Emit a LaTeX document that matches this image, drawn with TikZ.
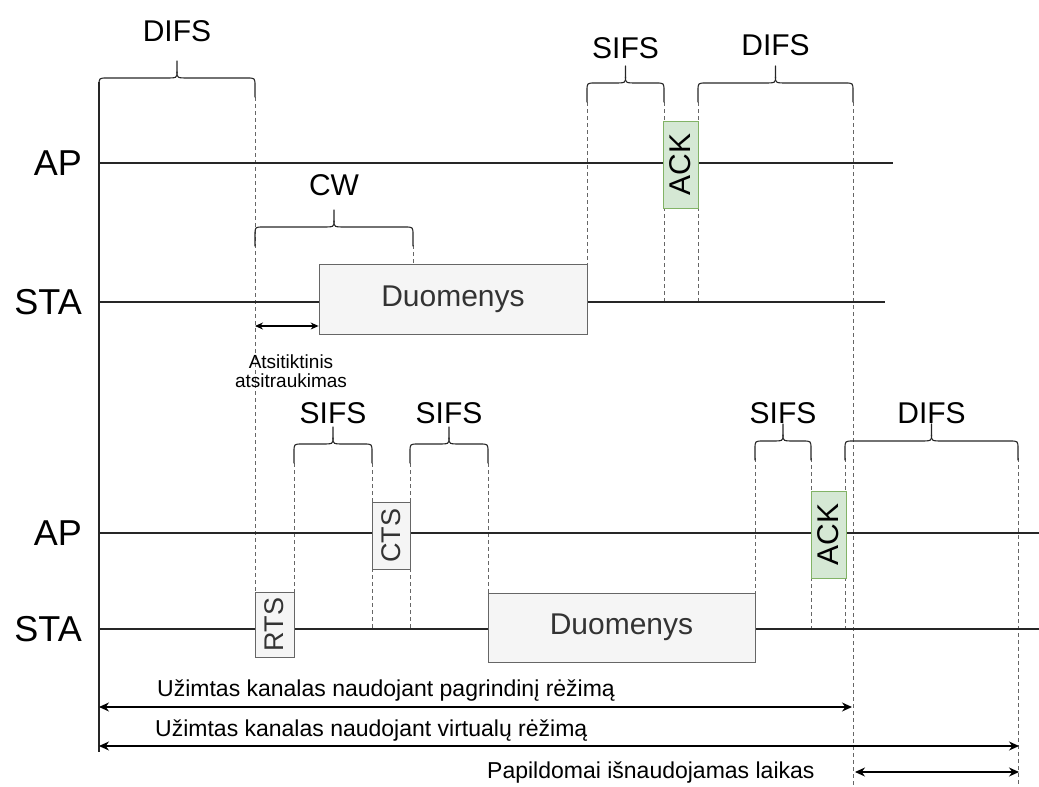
\documentclass[tikz,border=0pt]{standalone}
\usepackage{fontspec}
\setmainfont{Liberation Sans}
\usetikzlibrary{arrows.meta}
\definecolor{boxfill}{HTML}{F5F5F5}
\definecolor{boxline}{HTML}{666666}
\definecolor{boxtext}{HTML}{333333}
\definecolor{ackfill}{HTML}{D5E8D4}
\definecolor{ackline}{HTML}{82B366}
\newcommand{\fsz}[1]{\fontsize{#1}{#1}\selectfont}
% curly bracket: #1 x1, #2 x2, #3 y of leg bottoms, #4 label, #5 label y
\newcommand{\curly}[5]{%
  \pgfmathsetmacro\cmid{(#1+#2)/2}%
  \pgfmathsetmacro\chor{#3-19}%
  \draw[bracestyle] (#1,#3) -- (#1,\chor+8) .. controls (#1,\chor) .. (#1+8,\chor)
     -- (\cmid-12,\chor) .. controls (\cmid,\chor) .. (\cmid,\chor-6) -- (\cmid,\chor-17);
  \draw[bracestyle] (\cmid,\chor-6) .. controls (\cmid,\chor) .. (\cmid+12,\chor)
     -- (#2-8,\chor) .. controls (#2,\chor) .. (#2,\chor+8) -- (#2,#3);
  \node[bracelabel] at (\cmid,#5) {#4};
}
\begin{document}
\begin{tikzpicture}[x=1pt,y=-1pt,
  lane/.style={line width=1.2pt, black!85},
  guide/.style={draw=boxline, line width=0.8pt, dash pattern=on 4pt off 3pt},
  frame/.style={draw=boxline, fill=boxfill, line width=0.8pt, text=boxtext, inner sep=0pt},
  ackbox/.style={draw=ackline, fill=ackfill, line width=0.8pt, text=black, inner sep=0pt},
  bracestyle/.style={line width=1.1pt, black!85, line cap=round},
  span/.style={line width=1.2pt, {Stealth[length=10pt,width=9pt]}-{Stealth[length=10pt,width=9pt]}},
  smallspan/.style={line width=1.1pt, {Stealth[length=8pt,width=7pt]}-{Stealth[length=8pt,width=7pt]}},
  lanelabel/.style={font=\fsz{36}, anchor=east, inner sep=0pt},
  bracelabel/.style={font=\fsz{30}, inner sep=0pt},
  spanlabel/.style={font=\fsz{23}, inner sep=0pt},
]
\useasboundingbox (0,0) rectangle (1039,787);

% ---------- coordinates ----------
\coordinate (axT) at (99,82);
\coordinate (axB) at (99,752);
\coordinate (ap1s) at (99,163);  \coordinate (ap1e) at (893,163);
\coordinate (st1s) at (99,302);  \coordinate (st1e) at (885,302);
\coordinate (ap2s) at (99,533);  \coordinate (ap2e) at (1039,533);
\coordinate (st2s) at (99,629);  \coordinate (st2e) at (1039,629);

% ---------- dashed guides (behind) ----------
\draw[guide] (255,97) -- (255,592);
\draw[guide] (413,245) -- (413,302);
\draw[guide] (587,102) -- (587,264);
\draw[guide] (664,102) -- (664,302);
\draw[guide] (698,102) -- (698,302);
\draw[guide] (853,102) -- (853,787);
\draw[guide] (294,463) -- (294,592);
\draw[guide] (372,463) -- (372,629);
\draw[guide] (410,463) -- (410,629);
\draw[guide] (488,463) -- (488,593);
\draw[guide] (755,458) -- (755,593);
\draw[guide] (811,458) -- (811,629);
\draw[guide] (845,458) -- (845,629);
\draw[guide] (1018,458) -- (1018,787);

% ---------- lanes ----------
\draw[lane] (axT) -- (axB);
\draw[lane] (ap1s) -- (ap1e);
\draw[lane] (st1s) -- (st1e);
\draw[lane] (ap2s) -- (ap2e);
\draw[lane] (st2s) -- (st2e);

\node[lanelabel] (lap1) at (82,163) {AP};
\node[lanelabel] (lst1) at (82,302) {STA};
\node[lanelabel] (lap2) at (82,533) {AP};
\node[lanelabel] (lst2) at (82,629) {STA};

% ---------- frames ----------
\node[frame, minimum width=268pt, minimum height=70pt, font=\fsz{30}] (data1) at (453,299) {Duomenys};
\node[frame, minimum width=267pt, minimum height=69pt, font=\fsz{30}] (data2) at (621.5,627.5) {Duomenys};
\node[ackbox, rotate=90, minimum width=87pt, minimum height=35pt, font=\fsz{30}] (ack1) at (680.5,164.5) {ACK};
\node[ackbox, rotate=90, minimum width=87pt, minimum height=35pt, font=\fsz{30}] (ack2) at (828.5,534.5) {ACK};
\node[frame, rotate=90, minimum width=65pt, minimum height=39pt, font=\fsz{27}] (rts) at (274.5,624.5) {RTS};
\node[frame, rotate=90, minimum width=67pt, minimum height=38pt, font=\fsz{27}] (cts) at (391,535.5) {CTS};

% ---------- braces ----------
\curly{99}{255}{97}{DIFS}{31}
\curly{255}{413}{246}{CW}{185}
\curly{587}{664}{102}{SIFS}{48}
\curly{698}{853}{102}{DIFS}{45}
\curly{294}{372}{463}{SIFS}{413}
\curly{410}{488}{463}{SIFS}{413}
\curly{755}{811}{460}{SIFS}{413}
\curly{845}{1018}{460}{DIFS}{413}

% ---------- backoff ----------
\coordinate (bo1) at (255,326);
\draw[smallspan] (bo1) -- (data1.south west |- bo1);
\node[font=\fsz{19}, align=center, inner sep=0pt] (bolabel) at (291,371) {\fontsize{19}{20}\selectfont Atsitiktinis\\atsitraukimas};

% ---------- spans ----------
\coordinate (s1a) at (99,707);  \coordinate (s1b) at (852,707);
\coordinate (s2a) at (99,746);  \coordinate (s2b) at (1019,746);
\coordinate (s3a) at (855,772); \coordinate (s3b) at (1019,772);
\draw[span] (s1a) -- (s1b);
\draw[span] (s2a) -- (s2b);
\draw[span] (s3a) -- (s3b);
\node[spanlabel, anchor=west] (t1) at (157,691) {Užimtas kanalas naudojant pagrindinį rėžimą};
\node[spanlabel, anchor=west] (t2) at (155,731) {Užimtas kanalas naudojant virtualų rėžimą};
\node[spanlabel, anchor=west] (t3) at (487,773) {Papildomai išnaudojamas laikas};
\end{tikzpicture}
\end{document}
